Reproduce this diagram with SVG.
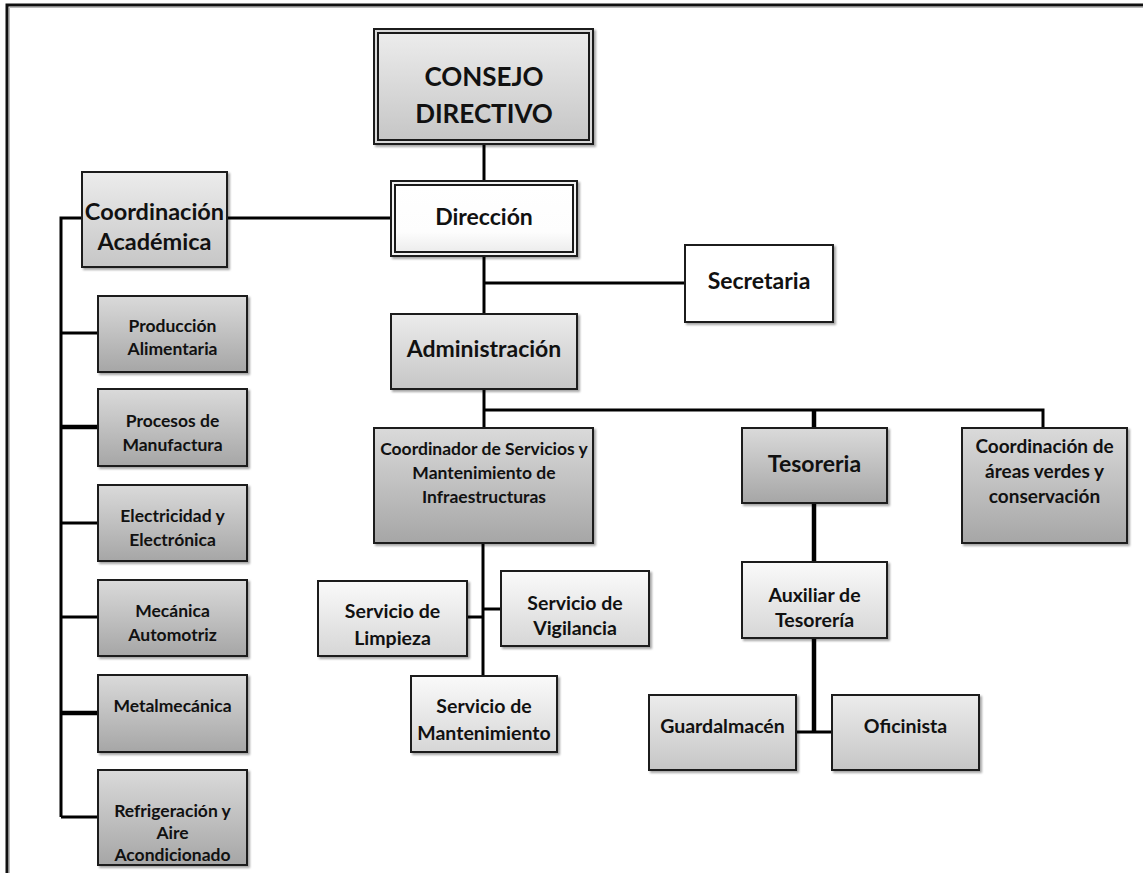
<svg xmlns="http://www.w3.org/2000/svg" width="1143" height="873" viewBox="0 0 1143 873">
<defs>
<linearGradient id="gLight" x1="0" y1="0" x2="0" y2="1"><stop offset="0" stop-color="#ececec"/><stop offset="1" stop-color="#c6c6c6"/></linearGradient>
<linearGradient id="gDark" x1="0" y1="0" x2="0" y2="1"><stop offset="0" stop-color="#dadada"/><stop offset="1" stop-color="#a6a6a6"/></linearGradient>
<linearGradient id="gPale" x1="0" y1="0" x2="0" y2="1"><stop offset="0" stop-color="#fafafa"/><stop offset="1" stop-color="#d6d6d6"/></linearGradient>
<linearGradient id="gWhite" x1="0" y1="0" x2="0" y2="1"><stop offset="0" stop-color="#ffffff"/><stop offset="0.7" stop-color="#fdfdfd"/><stop offset="1" stop-color="#ececec"/></linearGradient>
<filter id="sh" x="-10%" y="-10%" width="125%" height="130%"><feDropShadow dx="2" dy="2" stdDeviation="1.2" flood-color="#000" flood-opacity="0.35"/></filter>
</defs>
<style>
.box{stroke:#1a1a1a;stroke-width:2;filter:url(#sh)}
.in{stroke:#1a1a1a;stroke-width:2}
.light{fill:url(#gLight)}
.dark{fill:url(#gDark)}
.pale{fill:url(#gPale)}
.white{fill:#ffffff}
.t{font-family:Lato,"Liberation Sans",sans-serif;font-weight:bold;fill:#111;text-anchor:middle}
.c{stroke:#000;stroke-width:3;fill:none}
.ck{stroke:#000;stroke-width:4.5;fill:none}
</style>
<rect width="1143" height="873" fill="#ffffff"/>
<path d="M7 873 V5 H1143" fill="none" stroke="#111" stroke-width="3"/>
<path d="M9.5 873 V7.5 H1143" fill="none" stroke="#bbb" stroke-width="1"/>

<g id="connectors">
<path class="c" d="M484 144 V181"/>
<path class="c" d="M484 256 V314"/>
<path class="c" d="M484 283 H685"/>
<path class="c" d="M227 218 H391"/>
<path class="c" d="M82 218 H61 V817"/>
<path class="c" d="M61 333 H98"/>
<path class="ck" d="M61 427 H98"/>
<path class="c" d="M61 523 H98"/>
<path class="c" d="M61 617 H98"/>
<path class="ck" d="M61 713 H98"/>
<path class="c" d="M61 817 H98"/>
<path class="c" d="M484 389 V428"/>
<path class="c" d="M484 410 H1043 V428"/>
<path class="ck" d="M814 410 V428"/>
<path class="ck" d="M814 503 V562"/>
<path class="ck" d="M814 638 V732"/>
<path class="c" d="M796 732 H832"/>
<path class="c" d="M483 543 V676"/>
<path class="c" d="M465 617 H483"/>
<path class="c" d="M483 609 H501"/>
</g>

<g id="consejo">
<rect class="box" x="374" y="29" width="219" height="115" fill="#d9d9d9" stroke-width="1.5"/>
<rect class="in light" x="378" y="33" width="211" height="107"/>
<text class="t" x="484" y="86" font-size="26">CONSEJO</text>
<text class="t" x="484" y="123" font-size="26">DIRECTIVO</text>
</g>

<g id="direccion">
<rect class="box" x="391" y="181" width="186" height="75" fill="#f2f2f2" stroke-width="1.5"/>
<rect class="in" x="395" y="185" width="178" height="67" fill="url(#gWhite)"/>
<text class="t" x="484" y="225" font-size="23">Dirección</text>
</g>

<g id="secretaria">
<rect class="box white" x="685" y="245" width="148" height="77"/>
<text class="t" x="759" y="289" font-size="23">Secretaria</text>
</g>

<g id="administracion">
<rect class="box light" x="391" y="314" width="186" height="75"/>
<text class="t" x="484" y="357" font-size="23">Administración</text>
</g>

<g id="coord-academica">
<rect class="box light" x="82" y="172" width="145" height="95"/>
<text class="t" x="154.5" y="220" font-size="23.5" font-weight="normal">Coordinación</text>
<text class="t" x="154.5" y="250" font-size="23.5" font-weight="normal">Académica</text>
</g>

<g id="produccion">
<rect class="box dark" x="98" y="296" width="149" height="76"/>
<text class="t" x="172.5" y="332" font-size="17.5">Producción</text>
<text class="t" x="172.5" y="355" font-size="17.5">Alimentaria</text>
</g>
<g id="procesos">
<rect class="box dark" x="98" y="389" width="149" height="77"/>
<text class="t" x="172.5" y="427" font-size="17.5">Procesos de</text>
<text class="t" x="172.5" y="451" font-size="17.5">Manufactura</text>
</g>
<g id="electricidad">
<rect class="box dark" x="98" y="485" width="149" height="76"/>
<text class="t" x="172.5" y="522" font-size="17.5">Electricidad y</text>
<text class="t" x="172.5" y="546" font-size="17.5">Electrónica</text>
</g>
<g id="mecanica">
<rect class="box dark" x="98" y="580" width="149" height="76"/>
<text class="t" x="172.5" y="617" font-size="17.5">Mecánica</text>
<text class="t" x="172.5" y="641" font-size="17.5">Automotriz</text>
</g>
<g id="metalmecanica">
<rect class="box dark" x="98" y="675" width="149" height="77"/>
<text class="t" x="172.5" y="712" font-size="17.5">Metalmecánica</text>
</g>
<g id="refrigeracion">
<rect class="box dark" x="98" y="770" width="149" height="95"/>
<text class="t" x="172.5" y="817" font-size="17.5">Refrigeración y</text>
<text class="t" x="172.5" y="839" font-size="17.5">Aire</text>
<text class="t" x="172.5" y="861" font-size="17.5">Acondicionado</text>
</g>

<g id="coord-servicios">
<rect class="box dark" x="374" y="428" width="219" height="115"/>
<text class="t" x="484" y="455" font-size="17.5">Coordinador de Servicios y</text>
<text class="t" x="484" y="479" font-size="17.5">Mantenimiento de</text>
<text class="t" x="484" y="503" font-size="17.5">Infraestructuras</text>
</g>

<g id="tesoreria">
<rect class="box dark" x="742" y="428" width="145" height="75"/>
<text class="t" x="814.5" y="472" font-size="23">Tesoreria</text>
</g>

<g id="areas-verdes">
<rect class="box dark" x="962" y="428" width="165" height="115"/>
<text class="t" x="1044.5" y="453" font-size="19">Coordinación de</text>
<text class="t" x="1044.5" y="478" font-size="19">áreas verdes y</text>
<text class="t" x="1044.5" y="503" font-size="19">conservación</text>
</g>

<g id="auxiliar">
<rect class="box pale" x="742" y="562" width="145" height="76"/>
<text class="t" x="814.5" y="602" font-size="19.5">Auxiliar de</text>
<text class="t" x="814.5" y="627" font-size="19.5">Tesorería</text>
</g>

<g id="guardalmacen">
<rect class="box light" x="649" y="695" width="147" height="75"/>
<text class="t" x="722.5" y="733" font-size="19.5">Guardalmacén</text>
</g>

<g id="oficinista">
<rect class="box light" x="832" y="695" width="147" height="75"/>
<text class="t" x="905.5" y="733" font-size="19.5">Oficinista</text>
</g>

<g id="limpieza">
<rect class="box pale" x="318" y="581" width="149" height="75"/>
<text class="t" x="392.5" y="618" font-size="19.5">Servicio de</text>
<text class="t" x="392.5" y="645" font-size="19.5">Limpieza</text>
</g>

<g id="vigilancia">
<rect class="box pale" x="501" y="571" width="148" height="75"/>
<text class="t" x="575" y="610" font-size="19.5">Servicio de</text>
<text class="t" x="575" y="635" font-size="19.5">Vigilancia</text>
</g>

<g id="mantenimiento">
<rect class="box pale" x="411" y="676" width="146" height="76"/>
<text class="t" x="484" y="713" font-size="19.5">Servicio de</text>
<text class="t" x="484" y="740" font-size="19.5">Mantenimiento</text>
</g>
</svg>
